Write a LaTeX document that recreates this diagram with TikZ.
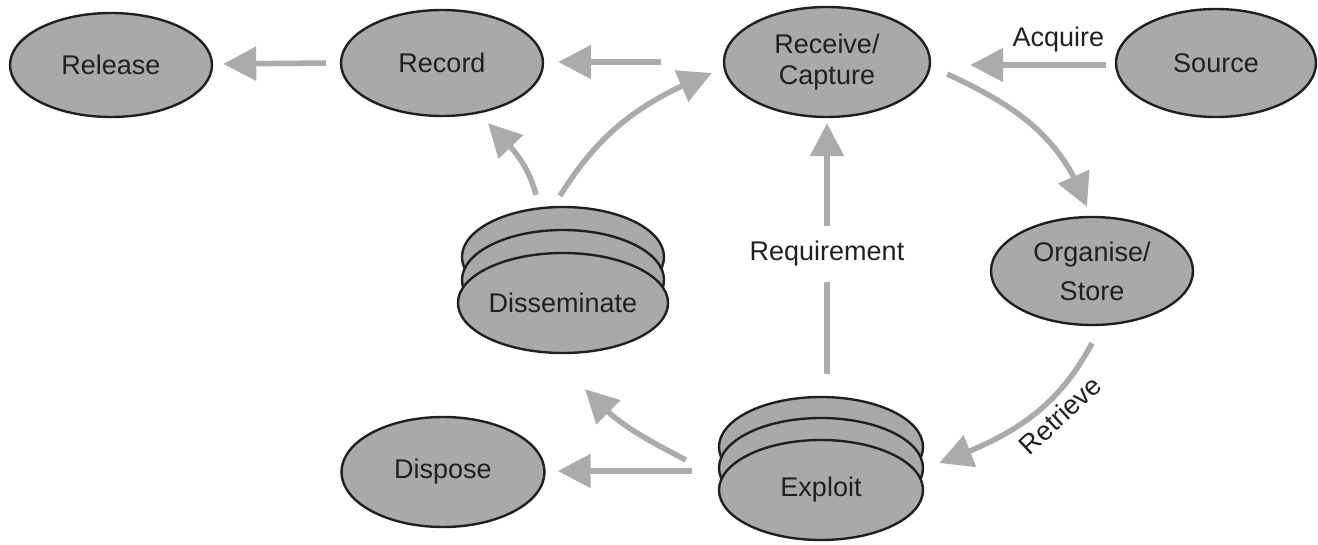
\documentclass[tikz,border=0pt]{standalone}
\usepackage{fontspec}
\setmainfont{Liberation Sans}
\usetikzlibrary{shapes.geometric,arrows.meta,calc,bending}
\definecolor{ink}{HTML}{231F20}
\definecolor{shade}{HTML}{A9A9A9}
\definecolor{arrgray}{HTML}{ABABAB}
\begin{document}
\begin{tikzpicture}[x=1pt,y=1pt,
  proc/.style={ellipse, draw=ink, line width=2.4pt, fill=shade, inner sep=0pt, text=ink,
    font=\fontsize{27}{32}\selectfont, align=center},
  arr/.style={draw=arrgray, line width=5.5pt, -{Triangle[length=33pt,width=33pt]}},
  lbl/.style={text=ink, font=\fontsize{27}{32}\selectfont}]
\useasboundingbox (0,0) rectangle (1318,544);
% nodes
\node[proc, minimum width=202pt, minimum height=104pt] (rel) at (111,479) {Release};
\node[proc, minimum width=202pt, minimum height=106pt] (rec) at (442,481) {Record};
\node[proc, minimum width=206pt, minimum height=110pt, font=\fontsize{27}{31}\selectfont] (rc) at (827,482) {Receive/\\Capture};
\node[proc, minimum width=200pt, minimum height=108pt] (src) at (1216,481) {Source};
\node[proc, minimum width=202pt, minimum height=108pt, font=\fontsize{27}{39}\selectfont] (org) at (1092,273) {Organise/\\Store};
\node[proc, minimum width=203pt, minimum height=110pt] (disp) at (443,72) {Dispose};
\node[proc, minimum width=202pt, minimum height=100pt] (dis3) at (563,287) {};
\node[proc, minimum width=202pt, minimum height=100pt] (dis2) at (563,264) {};
\node[proc, minimum width=202pt, minimum height=100pt] (dis) at (563,241) {Disseminate};
\node[proc, minimum width=204pt, minimum height=100pt] (exp3) at (821,97) {};
\node[proc, minimum width=204pt, minimum height=100pt] (exp2) at (821,76) {};
\node[proc, minimum width=204pt, minimum height=100pt] (exp) at (821,54) {Exploit};
% connectors
\draw[arr] ($(rec.west)+(-14,0)$) -- ($(rel.east)+(10,1)$);
\draw[arr] ($(rc.west)+(-62,0)$) -- ($(rec.east)+(14,1)$);
\draw[arr] ($(src.west)+(-9,-2)$) -- node[lbl, pos=0.35, anchor=base, yshift=18pt] {Acquire} ($(rc.east)+(39,-3)$);
\draw[arr] ($(rc.east)+(16,-12)$) to[out=-25,in=110] ($(org.north)+(-5,9)$);
\draw[arr] ($(org.south)+(0,-17)$) to[out=-118,in=20] ($(exp.east)+(15,27)$);
\node[lbl, rotate=43] (retl) at (1060,129) {Retrieve};
\draw[arr] ($(rc.south |- exp3.north)+(0,22)$) -- node[lbl, pos=0.48, fill=white, minimum height=56pt, inner xsep=2pt] {Requirement} ($(rc.south)+(0,-5)$);
\draw[arr] ($(dis3.north)+(-27,11)$) to[out=105,in=-45] ($(rec.south)+(46,-6)$);
\draw[arr] ($(dis3.north)+(-3,10)$) to[out=58,in=-158] ($(rc.west)+(-11,-11)$);
\draw[arr] ($(exp2.west)+(-32,8)$) to[out=152,in=-48] ($(dis.south)+(22,-35)$);
\draw[arr] ($(exp2.west)+(-26,-3)$) -- ($(disp.east)+(12,1)$);
\end{tikzpicture}
\end{document}
